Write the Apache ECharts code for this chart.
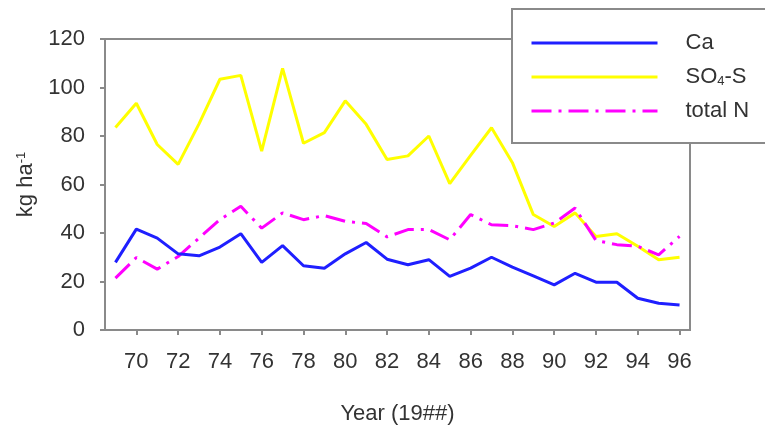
<!DOCTYPE html>
<html>
<head>
<meta charset="utf-8">
<script src="https://cdn.jsdelivr.net/npm/echarts@6/dist/echarts.min.js"></script>
<style>html,body{margin:0;padding:0;background:#fff}#c{width:765px;height:426px}</style>
</head>
<body>
<div id="c"></div>
<script>
const years = ['69','70','71','72','73','74','75','76','77','78','79','80','81','82','83','84','85','86','87','88','89','90','91','92','93','94','95','96'];
const ca   = [27.9,41.6,37.9,31.4,30.6,34.2,39.7,27.9,34.8,26.5,25.5,31.4,36.1,29.2,26.9,29.0,22.1,25.5,30.0,25.9,22.3,18.6,23.4,19.7,19.7,13.1,11.0,10.3];
const so4s = [83.5,93.5,76.5,68.3,85.0,103.4,105.0,73.8,107.9,77.0,81.4,94.5,84.8,70.3,71.8,80.0,60.4,72.0,83.4,69.0,47.6,42.7,48.3,38.6,39.7,34.5,29.0,30.0];
const totalN = [21.4,29.9,25.1,30.3,37.9,45.5,51.0,42.0,48.3,45.5,47.2,44.8,43.9,38.4,41.4,41.4,37.2,47.6,43.4,43.0,41.4,44.1,50.3,36.9,35.2,34.5,31.0,38.6];
const seriesNames = ['Ca','SO4-S','total N'];
const yTicks = [0,20,40,60,80,100,120];

const FONT = '"Liberation Sans", Arial, sans-serif';
const TXT = '#333';
const AX = '#8a8a8a';
const evenYear = (idx, val) => parseInt(val, 10) % 2 === 0;

const chart = echarts.init(document.getElementById('c'));
chart.setOption({
  animation: false,
  backgroundColor: '#fff',
  textStyle: { fontFamily: FONT },
  grid: { left: 105, right: 75, top: 39, bottom: 96, containLabel: false, outerBoundsMode: 'none',
    show: true, borderColor: AX, borderWidth: 2, backgroundColor: 'transparent' },
  graphic: [{
    type: 'rect', z: 3,
    shape: { x: 512, y: 9, width: 300, height: 134 },
    style: { fill: '#fff', stroke: AX, lineWidth: 2 }
  }],
  legend: {
    orient: 'vertical', left: 525, top: 27, z: 5,
    itemWidth: 126, itemHeight: 14, itemGap: 12,
    itemStyle: { opacity: 0 },
    lineStyle: { width: 3 },
    textStyle: { fontFamily: FONT, fontSize: 22, color: TXT, lineHeight: 22, padding: [0, 0, 0, 23],
      rich: { sub: { fontSize: 13, verticalAlign: 'bottom', padding: [10, 0, 0, 0], color: TXT, fontFamily: FONT } } },
    formatter: n => n === 'SO4-S' ? 'SO{sub|4}-S' : n,
    data: seriesNames
  },
  xAxis: {
    type: 'category', data: years, boundaryGap: true,
    name: 'Year (19##)', nameLocation: 'middle', nameGap: 73,
    nameTextStyle: { fontFamily: FONT, fontSize: 22, color: TXT },
    axisLine: { lineStyle: { color: AX, width: 2 } },
    axisTick: { show: true, alignWithLabel: true, interval: evenYear, length: 5, lineStyle: { color: AX, width: 2 } },
    axisLabel: { interval: evenYear, margin: 21, fontSize: 22, color: TXT, fontFamily: FONT },
    splitLine: { show: false }
  },
  yAxis: {
    type: 'value', min: 0, max: 120, interval: 20,
    name: 'kg ha{sup|-1}', nameLocation: 'middle', nameGap: 63, nameRotate: 90,
    nameTextStyle: { fontFamily: FONT, fontSize: 22, color: TXT,
      rich: { sup: { fontSize: 13, verticalAlign: 'top', padding: [0, 0, 10, 0], color: TXT, fontFamily: FONT } } },
    axisLine: { show: true, lineStyle: { color: AX, width: 2 } },
    axisTick: { show: true, length: 5, lineStyle: { color: AX, width: 2 } },
    axisLabel: { margin: 20, fontSize: 22, color: TXT, fontFamily: FONT,
      formatter: v => yTicks.includes(v) ? String(v) : '' },
    splitLine: { show: false }
  },
  series: [
    { name: seriesNames[0], type: 'line', data: ca, symbol: 'none', z: 3,
      lineStyle: { color: '#1f1fff', width: 3 }, itemStyle: { color: '#1f1fff' } },
    { name: seriesNames[1], type: 'line', data: so4s, symbol: 'none', z: 2,
      lineStyle: { color: '#ffff00', width: 3 }, itemStyle: { color: '#ffff00' } },
    { name: seriesNames[2], type: 'line', data: totalN, symbol: 'none', z: 2,
      lineStyle: { color: '#ff00ff', width: 3, type: [20, 7, 3, 7] }, itemStyle: { color: '#ff00ff' } }
  ]
});
</script>
</body>
</html>
